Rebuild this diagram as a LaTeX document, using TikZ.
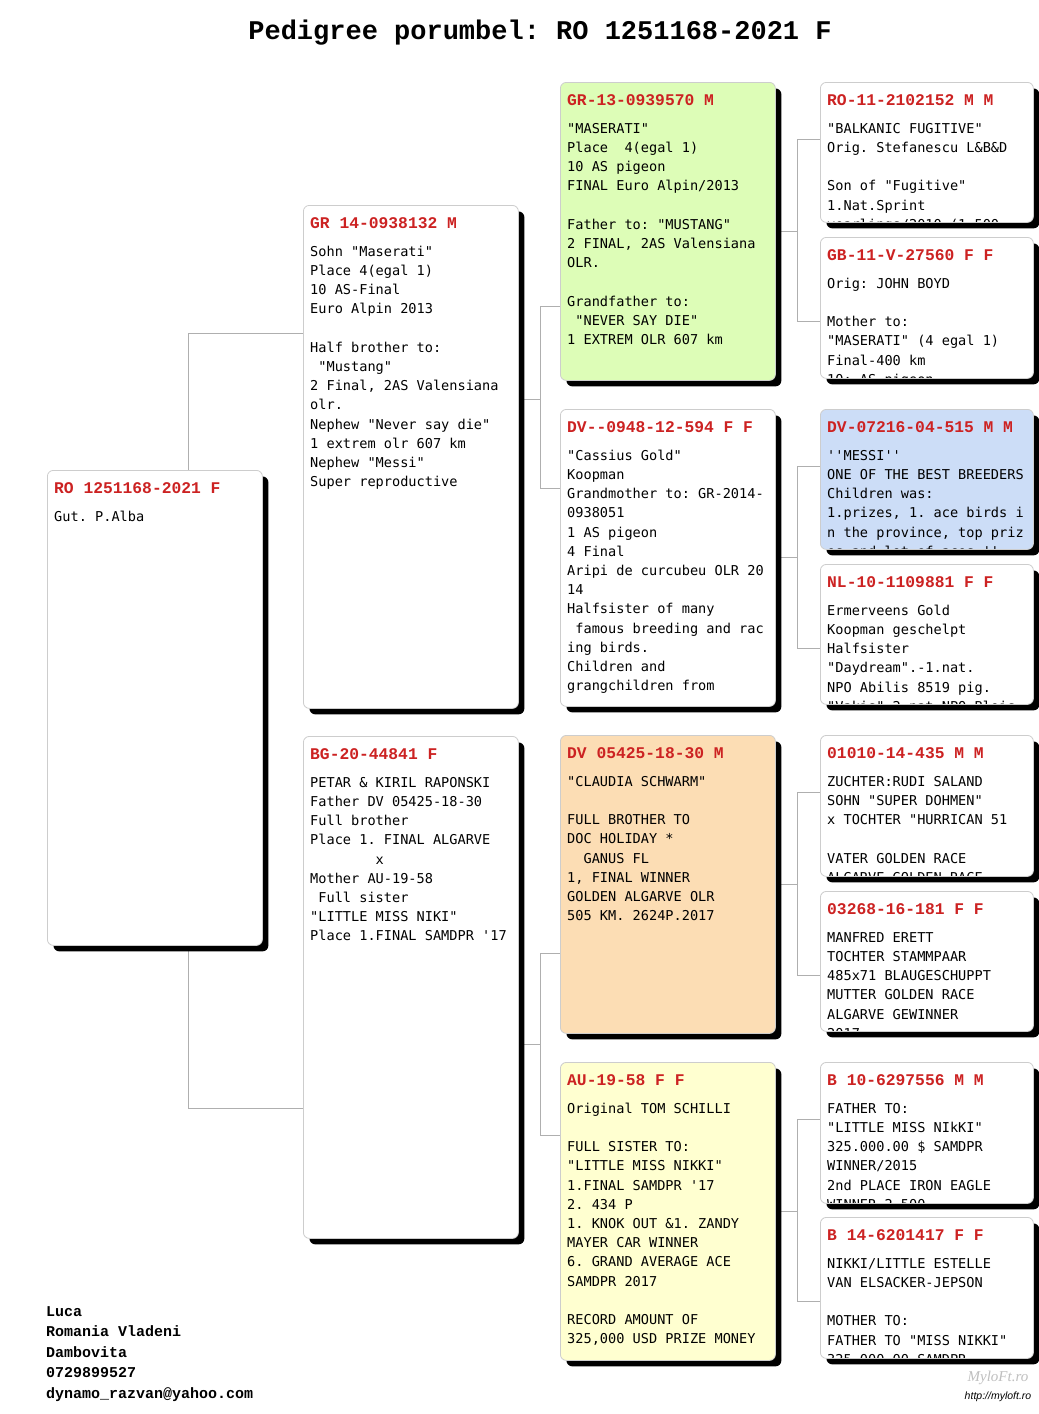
\documentclass[tikz,border=0pt]{standalone}
\usepackage{fontspec}
\usepackage{tikz}
\usetikzlibrary{calc,shadows,backgrounds}
\newfontfamily\cardfont{DejaVu Sans Mono}
\newfontfamily\headfont{Liberation Mono}
\newfontfamily\creditfont{Liberation Sans}
\newfontfamily\logofont{Liberation Serif}
\definecolor{headred}{RGB}{204,34,34}
\definecolor{cardline}{RGB}{205,205,205}
\definecolor{linkgray}{RGB}{175,175,175}
\definecolor{cardgreen}{RGB}{221,253,183}
\definecolor{cardorange}{RGB}{252,221,180}
\definecolor{cardyellow}{RGB}{255,255,208}
\definecolor{cardblue}{RGB}{204,221,247}
\frenchspacing
% one pedigree card: name, x, y, width, height, fill, ring, notes
\newcommand\card[8]{%
  \node[card,fill=#6,minimum width=#4pt,minimum height=#5pt] (#1) at (#2,#3) {};
  \begin{scope}
    \clip ($(#1.north west)+(1,-1)$) rectangle ($(#1.south east)+(-1,1)$);
    \node[cardhead] (#1-head) at ($(#1.north west)+(7,-23)$) {#7};
    \node[cardbody] (#1-body) at ($(#1.north west)+(7,-37.6)$) {\strut#8};
  \end{scope}}
\begin{document}
\begin{tikzpicture}[x=1pt,y=1pt]
\tikzstyle{card}=[draw=cardline,line width=.8pt,rounded corners=6pt,anchor=north west,inner sep=0pt,
  drop shadow={shadow xshift=6pt,shadow yshift=-6pt,opacity=1,fill=black}]
\tikzstyle{cardhead}=[anchor=base west,inner sep=0pt,text=headred,font=\headfont\bfseries\fontsize{16.3}{19}\selectfont]
\tikzstyle{cardbody}=[anchor=north west,inner sep=0pt,align=left,font=\cardfont\fontsize{13.6}{19.2}\selectfont]
\tikzstyle{link}=[draw=linkgray,line width=1pt]
\useasboundingbox (0,0) rectangle (1039,-1414);

\node[anchor=base,font=\headfont\bfseries\fontsize{27}{30}\selectfont] (title) at (540,-39) {Pedigree porumbel: RO 1251168-2021 F};

% generation 0 and 1
\card{ro}{47}{-470}{215}{475}{white}{RO 1251168-2021 F}{Gut. P.Alba}
\card{gr14}{303}{-205}{215}{503}{white}{GR 14-0938132 M}{Sohn "Maserati"\\Place 4(egal 1)\\10 AS-Final\\Euro Alpin 2013\\~\\Half brother to:\\\ "Mustang"\\2 Final, 2AS Valensiana\\olr.\\Nephew "Never say die"\\1 extrem olr 607 km\\Nephew "Messi"\\Super reproductive}
\card{bg}{303}{-736}{215}{502}{white}{BG-20-44841 F}{PETAR \& KIRIL RAPONSKI\\Father DV 05425-18-30\\Full brother\\Place 1. FINAL ALGARVE\\\phantom{00000000}x\\Mother AU-19-58\\\ Full sister\\"LITTLE MISS NIKI"\\Place 1.FINAL SAMDPR '17}

% generation 2
\card{gr13}{560}{-82}{215}{298}{cardgreen}{GR-13-0939570 M}{"MASERATI"\\Place\ \ 4(egal 1)\\10 AS pigeon\\FINAL Euro Alpin/2013\\~\\Father to: "MUSTANG"\\2 FINAL, 2AS Valensiana\\OLR.\\~\\Grandfather to:\\\ "NEVER SAY DIE"\\1 EXTREM OLR 607 km}
\card{dv0948}{560}{-409}{215}{297}{white}{DV--0948-12-594 F F}{"Cassius Gold"\\Koopman\\Grandmother to: GR-2014-\\0938051\\1 AS pigeon\\4 Final\\Aripi de curcubeu OLR 20\\14\\Halfsister of many\\\ famous breeding and rac\\ing birds.\\Children and\\grangchildren from}
\card{dv05425}{560}{-735}{215}{298}{cardorange}{DV 05425-18-30 M}{"CLAUDIA SCHWARM"\\~\\FULL BROTHER TO\\DOC HOLIDAY *\\\phantom{00}GANUS FL\\1, FINAL WINNER\\GOLDEN ALGARVE OLR\\505 KM. 2624P.2017}
\card{au1958}{560}{-1062}{215}{298}{cardyellow}{AU-19-58 F F}{Original TOM SCHILLI\\~\\FULL SISTER TO:\\"LITTLE MISS NIKKI"\\1.FINAL SAMDPR '17\\2. 434 P\\1. KNOK OUT \&1. ZANDY\\MAYER CAR WINNER\\6. GRAND AVERAGE ACE\\SAMDPR 2017\\~\\RECORD AMOUNT OF\\325,000 USD PRIZE MONEY}

% generation 3
\card{ro11}{820}{-82}{213}{140}{white}{RO-11-2102152 M M}{"BALKANIC FUGITIVE"\\Orig. Stefanescu L\&B\&D\\~\\Son of "Fugitive"\\1.Nat.Sprint\\yearlings/2010 (1 500}
\card{gb11}{820}{-237}{213}{141}{white}{GB-11-V-27560 F F}{Orig: JOHN BOYD\\~\\Mother to:\\"MASERATI" (4 egal 1)\\Final-400 km\\10: AS pigeon}
\card{dv07216}{820}{-409}{213}{140}{cardblue}{DV-07216-04-515 M M}{''MESSI''\\ONE OF THE BEST BREEDERS\\Children was:\\1.prizes, 1. ace birds i\\n the province, top priz\\es and lot of aces ''}
\card{nl10}{820}{-564}{213}{140}{white}{NL-10-1109881 F F}{Ermerveens Gold\\Koopman geschelpt\\Halfsister\\"Daydream".-1.nat.\\NPO Abilis 8519 pig.\\"Vakis" 2.nat NPO Blois}
\card{zu01010}{820}{-735}{213}{141}{white}{01010-14-435 M M}{ZUCHTER:RUDI SALAND\\SOHN "SUPER DOHMEN"\\x TOCHTER "HURRICAN 51\\~\\VATER GOLDEN RACE\\ALGARVE GOLDEN RACE}
\card{ma03268}{820}{-891}{213}{140}{white}{03268-16-181 F F}{MANFRED ERETT\\TOCHTER STAMMPAAR\\485x71 BLAUGESCHUPPT\\MUTTER GOLDEN RACE\\ALGARVE GEWINNER\\2017}
\card{b10}{820}{-1062}{213}{141}{white}{B 10-6297556 M M}{FATHER TO:\\"LITTLE MISS NIkKI"\\325.000.00 \$ SAMDPR\\WINNER/2015\\2nd PLACE IRON EAGLE\\WINNER 2.500}
\card{b14}{820}{-1217}{213}{141}{white}{B 14-6201417 F F}{NIKKI/LITTLE ESTELLE\\VAN ELSACKER-JEPSON\\~\\MOTHER TO:\\FATHER TO "MISS NIKKI"\\325.000.00 SAMDPR}

% breeder and site
\node[anchor=north west,inner sep=0pt,align=left,font=\headfont\bfseries\fontsize{15}{20.5}\selectfont] (owner) at (46,-1301.6) {\strut Luca\\Romania Vladeni\\Dambovita\\0729899527\\dynamo\_razvan@yahoo.com};
\node[text=black!25,font=\logofont\itshape\fontsize{15}{16}\selectfont] (logo) at (998,-1378) {MyloFt.ro};
\node[anchor=base,font=\creditfont\itshape\fontsize{10.5}{12}\selectfont] (site) at (998,-1399) {http://myloft.ro};

% connectors
\begin{scope}[on background layer]
\fill[white] (0,0) rectangle (1039,-1414);
\draw[link] ($(gr14.west)+(0,123.5)$) -- ++(-115,0) |- ($(bg.west)+(0,-121)$);
\draw[link] ($(gr14.east)+(0,57.5)$) -- ++(22,0) coordinate (gr14-m);
\draw[link] ($(gr13.west)+(0,-75)$) -| (gr14-m) |- ($(dv0948.west)+(0,69.5)$);
\draw[link] ($(bg.east)+(0,-57)$) -- ++(22,0) coordinate (bg-m);
\draw[link] ($(dv05425.west)+(0,-69)$) -| (bg-m) |- ($(au1958.west)+(0,76)$);
\foreach \p/\u/\d in {gr13/ro11/gb11,dv0948/dv07216/nl10,dv05425/zu01010/ma03268,au1958/b10/b14}{
  \draw[link] (\p.east) -- ++(22,0) coordinate (\p-m);
  \draw[link] ($(\u.west)+(0,13)$) -| (\p-m) |- ($(\d.west)+(0,-14)$);
}
\end{scope}
\end{tikzpicture}
\end{document}
